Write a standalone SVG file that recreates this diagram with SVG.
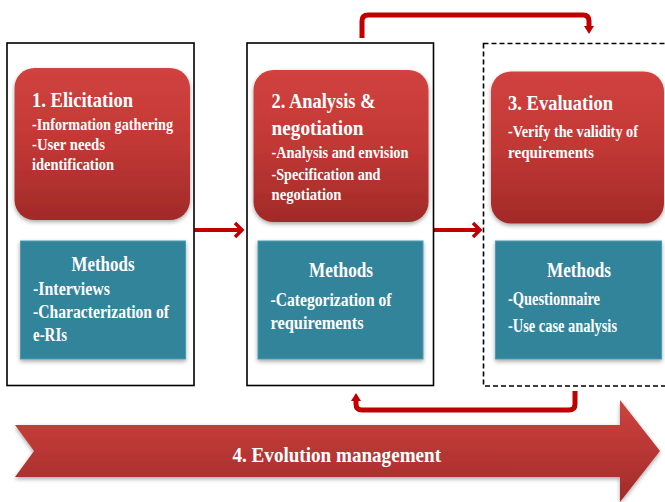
<svg xmlns="http://www.w3.org/2000/svg" width="665" height="502" viewBox="0 0 665 502">
<defs>
<style>
.t{font-family:"Liberation Serif","DejaVu Serif",serif;font-weight:bold;fill:#fff}
.h{font-size:21.5px}
.s{font-size:17px}
.m{font-size:21px}
.ts{font-size:18px}
.outer{fill:#fff;stroke:#000;stroke-width:1.6}
.dash{fill:#fff;stroke:#000;stroke-width:1.6;stroke-dasharray:5 3}
.red{fill:url(#rg);filter:url(#sh)}
.teal{fill:#31849b;stroke:#4a9db3;stroke-width:1;filter:url(#sh)}
.con{fill:none;stroke:#c00000;stroke-linejoin:round}
</style>
<linearGradient id="rg" x1="0" y1="0" x2="0" y2="1">
<stop offset="0" stop-color="#d1423f"/>
<stop offset="0.5" stop-color="#c13835"/>
<stop offset="1" stop-color="#a22a28"/>
</linearGradient>
<linearGradient id="eg" x1="0" y1="0" x2="0" y2="1">
<stop offset="0" stop-color="#cf423f"/>
<stop offset="1" stop-color="#a12b29"/>
</linearGradient>
<filter id="sh" x="-10%" y="-10%" width="120%" height="130%">
<feDropShadow dx="0" dy="2" stdDeviation="2" flood-color="#000" flood-opacity="0.35"/>
</filter>
<marker id="chev" markerUnits="userSpaceOnUse" markerWidth="14" markerHeight="18" refX="9" refY="9" orient="auto">
<path d="M2,2 L9,9 L2,16" fill="none" stroke="#c00000" stroke-width="3.5"/>
</marker>
<marker id="tri" markerUnits="userSpaceOnUse" markerWidth="12" markerHeight="12" refX="2" refY="6" orient="auto">
<path d="M0,1 L8,6 L0,11 Z" fill="#c00000"/>
</marker>
</defs>

<g id="connectors">
<path class="con" d="M194,230 H242" stroke-width="4" marker-end="url(#chev)"/>
<path class="con" d="M433,230 H480" stroke-width="4" marker-end="url(#chev)"/>
<path class="con" d="M362,38 V21 Q362,15 368,15 H583 Q589,15 589,21 V28" stroke-width="5" marker-end="url(#tri)"/>
<path class="con" d="M575,391 V404 Q575,410 569,410 H362 Q356,410 356,404 V399" stroke-width="5" marker-end="url(#tri)"/>
</g>

<g id="stage1">
<rect class="outer" x="7" y="43" width="187" height="342.5"/>
<rect class="red" x="14.5" y="68" width="175.5" height="152" rx="20"/>
<text class="t h" x="32" y="107" textLength="101" lengthAdjust="spacingAndGlyphs">1. Elicitation</text>
<text class="t s" x="32" y="130" textLength="141" lengthAdjust="spacingAndGlyphs">-Information gathering</text>
<text class="t s" x="32" y="150" textLength="73" lengthAdjust="spacingAndGlyphs">-User needs</text>
<text class="t s" x="32" y="170" textLength="82" lengthAdjust="spacingAndGlyphs">identification</text>
</g>

<g id="methods1">
<rect class="teal" x="20.5" y="241" width="165" height="118"/>
<text class="t m" x="103" y="271" text-anchor="middle" textLength="63" lengthAdjust="spacingAndGlyphs">Methods</text>
<text class="t ts" x="33" y="295" textLength="77" lengthAdjust="spacingAndGlyphs">-Interviews</text>
<text class="t ts" x="33" y="318" textLength="136" lengthAdjust="spacingAndGlyphs">-Characterization of</text>
<text class="t ts" x="33" y="341" textLength="34" lengthAdjust="spacingAndGlyphs">e-RIs</text>
</g>

<g id="stage2">
<rect class="outer" x="247" y="43" width="186.5" height="342.5"/>
<rect class="red" x="253.5" y="70" width="175" height="152" rx="20"/>
<text class="t h" x="271.5" y="108" textLength="104" lengthAdjust="spacingAndGlyphs">2. Analysis &amp;</text>
<text class="t h" x="271.5" y="135" textLength="92" lengthAdjust="spacingAndGlyphs">negotiation</text>
<text class="t s" x="271.5" y="158" textLength="137" lengthAdjust="spacingAndGlyphs">-Analysis and envision</text>
<text class="t s" x="271.5" y="180" textLength="109" lengthAdjust="spacingAndGlyphs">-Specification and</text>
<text class="t s" x="271.5" y="200" textLength="70" lengthAdjust="spacingAndGlyphs">negotiation</text>
</g>

<g id="methods2">
<rect class="teal" x="258" y="241" width="165" height="118"/>
<text class="t m" x="341" y="277" text-anchor="middle" textLength="64" lengthAdjust="spacingAndGlyphs">Methods</text>
<text class="t ts" x="270.5" y="306" textLength="121" lengthAdjust="spacingAndGlyphs">-Categorization of</text>
<text class="t ts" x="270.5" y="329" textLength="93" lengthAdjust="spacingAndGlyphs">requirements</text>
</g>

<g id="stage3">
<rect class="dash" x="483.5" y="43.5" width="200" height="342.5"/>
<rect class="red" x="491" y="71.5" width="173" height="152" rx="20"/>
<text class="t h" x="508" y="110" textLength="105" lengthAdjust="spacingAndGlyphs">3. Evaluation</text>
<text class="t s" x="508" y="137" textLength="130" lengthAdjust="spacingAndGlyphs">-Verify the validity of</text>
<text class="t s" x="508" y="158" textLength="86" lengthAdjust="spacingAndGlyphs">requirements</text>
</g>

<g id="methods3">
<rect class="teal" x="495.5" y="241" width="166" height="118"/>
<text class="t m" x="579" y="277" text-anchor="middle" textLength="64" lengthAdjust="spacingAndGlyphs">Methods</text>
<text class="t ts" x="508" y="305" textLength="92" lengthAdjust="spacingAndGlyphs">-Questionnaire</text>
<text class="t ts" x="508" y="332" textLength="109" lengthAdjust="spacingAndGlyphs">-Use case analysis</text>
</g>

<g id="evolution">
<path d="M15,425 H620 V400 L660,451 L620,502 V477 H15 L34,451 Z" fill="url(#eg)" filter="url(#sh)"/>
<text class="t h" x="232.5" y="462" textLength="208.5" lengthAdjust="spacingAndGlyphs">4. Evolution management</text>
</g>
</svg>
